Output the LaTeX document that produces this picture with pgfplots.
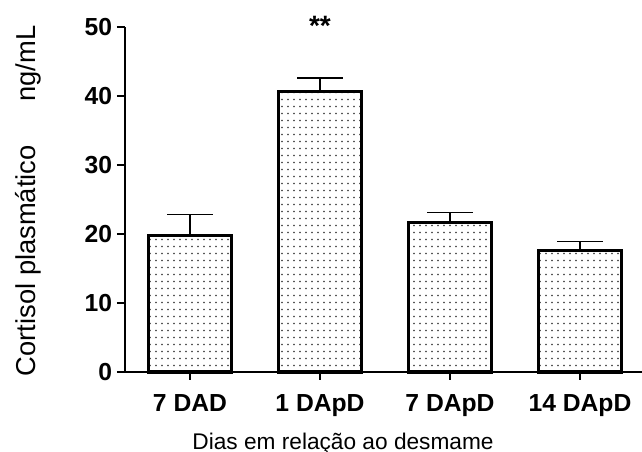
\documentclass[border=0pt]{standalone}
\usepackage{pgfplots}
\pgfplotsset{compat=1.18}
\usepackage{pgfplotstable}
\usepackage{fontspec}
\setmainfont{Liberation Sans}
\usetikzlibrary{patterns.meta}

% sparse dot fill like the original bars
\tikzdeclarepattern{
  name=fewdots,
  type=uncolored,
  bottom left={(0pt,0pt)},
  top right={(4.8pt,5.2pt)},
  tile size={(4.8pt,5.2pt)},
  code={\fill (1.9pt,2.1pt) rectangle (2.9pt,3.1pt);}
}

% mean and upper SEM
\pgfplotstableread{
x val err
0 19.8 3.0
1 40.6 2.0
2 21.7 1.4
3 17.6 1.3
}\cortisol

\begin{document}
\begin{tikzpicture}
\begin{axis}[
  name=ax,
  scale only axis,
  width=387.75pt, height=258.75pt,
  xmin=-0.5, xmax=3.477,
  ymin=0, ymax=50,
  axis x line=bottom, axis y line=left,
  axis line style={-, line width=2.2pt},
  xtick={0,1,2,3},
  xticklabels={7 DAD, 1 DApD, 7 DApD, 14 DApD},
  ytick={0,10,...,50},
  tick align=outside,
  major tick length=6pt,
  tick style={line width=2.2pt, black},
  tick label style={font=\fontsize{18.5}{20}\selectfont\bfseries, inner sep=0pt},
  /pgf/number format/assume math mode=true,
  xticklabel style={anchor=base, yshift=-23.25pt},
  yticklabel style={anchor=east, xshift=-3.5pt},
  xlabel={Dias em relação ao desmame},
  ylabel={Cortisol plasmático\hspace{1.6em}ng/mL},
  xlabel style={at={(axis description cs:0.4217,-0.2232)}, anchor=base,
                font=\fontsize{17}{19}\selectfont},
  ylabel style={at={(axis description cs:-0.1867,0.496)}, anchor=center,
                font=\fontsize{20.5}{22}\selectfont},
  clip=false,
]
\addplot[ybar, bar width=62pt, draw=black, line width=2.4pt,
  pattern=fewdots, pattern color=black,
  error bars/.cd, y dir=plus, y explicit,
  error bar style={line width=1.2pt, black},
  error mark options={rotate=90, line width=1.2pt, mark size=16.9pt, black}]
  table[x=x, y=val, y error=err] {\cortisol};
\node[font=\fontsize{21}{23}\selectfont\bfseries, anchor=base] at (axis cs:1,48.7) {**};
\end{axis}
\pgfresetboundingbox
\path[use as bounding box] ([shift={(-93.75pt,-60pt)}]ax.south west)
  rectangle ([shift={(387.75pt,279pt)}]ax.south west);
\end{tikzpicture}
\end{document}
